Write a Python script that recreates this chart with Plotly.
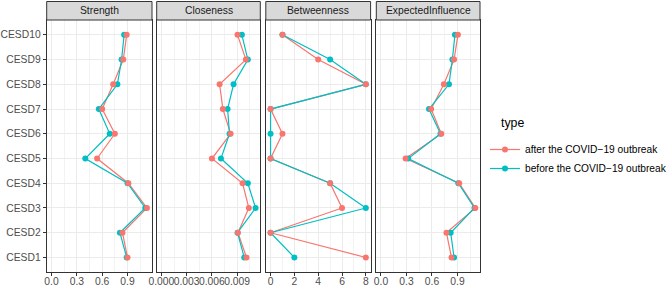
import plotly.graph_objects as go

W, H = 669, 286

nodes = ["CESD1", "CESD2", "CESD3", "CESD4", "CESD5", "CESD6", "CESD7", "CESD8", "CESD9", "CESD10"]
measures = ["Strength", "Closeness", "Betweenness", "ExpectedInfluence"]
series_names = ["after the COVID\u221219 outbreak", "before the COVID\u221219 outbreak"]

# values listed CESD1 .. CESD10
strength_after = [0.90, 0.84, 1.13, 0.91, 0.54, 0.75, 0.60, 0.73, 0.85, 0.89]
strength_before = [0.89, 0.81, 1.11, 0.90, 0.40, 0.69, 0.56, 0.78, 0.83, 0.86]
closeness_after = [0.01012, 0.00910, 0.01040, 0.00965, 0.00601, 0.00823, 0.00731, 0.00692, 0.01005, 0.00905]
closeness_before = [0.00985, 0.00905, 0.01120, 0.01028, 0.00708, 0.00810, 0.00787, 0.00858, 0.01028, 0.00957]
betweenness_after = [8, 0, 6, 5, 0, 1, 0, 8, 4, 1]
betweenness_before = [2, 0, 8, 5, 0, 0, 0, 8, 5, 1]
ei_after = [0.83, 0.77, 1.11, 0.92, 0.29, 0.71, 0.59, 0.74, 0.86, 0.905]
ei_before = [0.86, 0.82, 1.10, 0.91, 0.32, 0.70, 0.565, 0.80, 0.84, 0.87]

tickvals = {
    "Strength": [0, 0.3, 0.6, 0.9],
    "Closeness": [0, 0.003, 0.006, 0.009],
    "Betweenness": [0, 2, 4, 6, 8],
    "ExpectedInfluence": [0, 0.3, 0.6, 0.9],
}
ticktext = {
    "Strength": ["0.0", "0.3", "0.6", "0.9"],
    "Closeness": ["0.000", "0.003", "0.006", "0.009"],
    "Betweenness": ["0", "2", "4", "6", "8"],
    "ExpectedInfluence": ["0.0", "0.3", "0.6", "0.9"],
}
minor_dtick = {"Strength": 0.15, "Closeness": 0.0015, "Betweenness": 1, "ExpectedInfluence": 0.15}
xranges = {
    "Strength": [-0.057, 1.19],
    "Closeness": [-0.00056, 0.01176],
    "Betweenness": [-0.4, 8.4],
    "ExpectedInfluence": [-0.055, 1.165],
}
data = {
    "Strength": (strength_after, strength_before),
    "Closeness": (closeness_after, closeness_before),
    "Betweenness": (betweenness_after, betweenness_before),
    "ExpectedInfluence": (ei_after, ei_before),
}

RED = "#F8766D"
TEAL = "#00BFC4"
FONT = "Liberation Sans, Arial, sans-serif"

panel_px = [(46.7, 152.0), (156.7, 260.3), (265.8, 370.6), (376.3, 480.0)]
y_top_px, y_bot_px = 20.0, 272.3
ydom = [1 - y_bot_px / H, 1 - y_top_px / H]

fig = go.Figure()
ycat = list(range(len(nodes)))

layout = dict(
    width=W, height=H,
    margin=dict(l=0, r=0, t=0, b=0, autoexpand=False),
    paper_bgcolor="white", plot_bgcolor="white",
    font=dict(family=FONT, size=10.3, color="#4D4D4D"),
    showlegend=True,
)
shapes = []
annotations = []

for i, m in enumerate(measures):
    idx = "" if i == 0 else str(i + 1)
    xa, ya = "x" + idx, "y" + idx
    after, before = data[m]
    fig.add_trace(go.Scatter(x=after, y=ycat, mode="lines", line=dict(color=RED, width=1.2),
                             xaxis=xa, yaxis=ya, showlegend=False, hoverinfo="skip"))
    fig.add_trace(go.Scatter(x=before, y=ycat, mode="lines", line=dict(color=TEAL, width=1.2),
                             xaxis=xa, yaxis=ya, showlegend=False, hoverinfo="skip"))
    fig.add_trace(go.Scatter(x=before, y=ycat, mode="markers", marker=dict(color=TEAL, size=6),
                             xaxis=xa, yaxis=ya, showlegend=False))
    fig.add_trace(go.Scatter(x=after, y=ycat, mode="markers", marker=dict(color=RED, size=6),
                             xaxis=xa, yaxis=ya, showlegend=False))

    x0, x1 = panel_px[i]
    dom = [x0 / W, x1 / W]
    layout["xaxis" + idx] = dict(
        domain=dom, range=xranges[m], anchor=ya, automargin=False,
        tickvals=tickvals[m], ticktext=ticktext[m], tickangle=0,
        ticks="outside", ticklen=3, tickcolor="#333333", tickwidth=1,
        ticklabelstandoff=-4,
        tickfont=dict(family=FONT, size=10.3, color="#4D4D4D"),
        showgrid=True, gridcolor="#EBEBEB", gridwidth=1,
        minor=dict(dtick=minor_dtick[m], tick0=minor_dtick[m], showgrid=True,
                   gridcolor="#F3F3F3", gridwidth=0.6, ticks=""),
        showline=True, linecolor="#333333", linewidth=1, mirror=True,
        zeroline=False, fixedrange=True,
    )
    layout["yaxis" + idx] = dict(
        domain=ydom, range=[-0.6, 9.6], anchor=xa, automargin=False,
        tickvals=ycat, ticktext=nodes,
        showticklabels=(i == 0),
        ticks="outside" if i == 0 else "", ticklen=3, tickcolor="#333333",
        tickfont=dict(family=FONT, size=10.3, color="#4D4D4D"),
        showgrid=True, gridcolor="#EBEBEB", gridwidth=1,
        showline=True, linecolor="#333333", linewidth=1, mirror=True,
        zeroline=False, fixedrange=True,
    )
    shapes.append(dict(type="rect", xref="paper", yref="paper",
                       x0=dom[0], x1=dom[1], y0=ydom[1], y1=1 - 1.5 / H,
                       fillcolor="#D9D9D9", line=dict(color="#333333", width=1), layer="above"))
    annotations.append(dict(text=m, xref="paper", yref="paper",
                            x=(dom[0] + dom[1]) / 2, y=(ydom[1] + 1 - 1.5 / H) / 2,
                            xanchor="center", yanchor="middle", showarrow=False,
                            font=dict(family=FONT, size=10.3, color="#1A1A1A")))

# legend title as annotation
annotations.append(dict(text="type", xref="paper", yref="paper",
                        x=498.5 / W, y=1 - 123 / H, xanchor="left", yanchor="middle",
                        showarrow=False, font=dict(family=FONT, size=12.3, color="#000000")))

fig.add_trace(go.Scatter(x=[None], y=[None], mode="lines+markers", name=series_names[0],
                         line=dict(color=RED, width=1.2), marker=dict(color=RED, size=6)))
fig.add_trace(go.Scatter(x=[None], y=[None], mode="lines+markers", name=series_names[1],
                         line=dict(color=TEAL, width=1.2), marker=dict(color=TEAL, size=6)))

layout["legend"] = dict(
    x=485 / W, y=1 - 135 / H, xanchor="left", yanchor="top",
    font=dict(family=FONT, size=10.2, color="#000000"),
    tracegroupgap=0, itemwidth=30, bgcolor="rgba(0,0,0,0)",
)
layout["shapes"] = shapes
layout["annotations"] = annotations
fig.update_layout(**layout)

fig.write_html(
    "out.html",
    config={"displayModeBar": False},
    post_script="document.body.style.margin='0';document.body.style.overflow='hidden';",
)
